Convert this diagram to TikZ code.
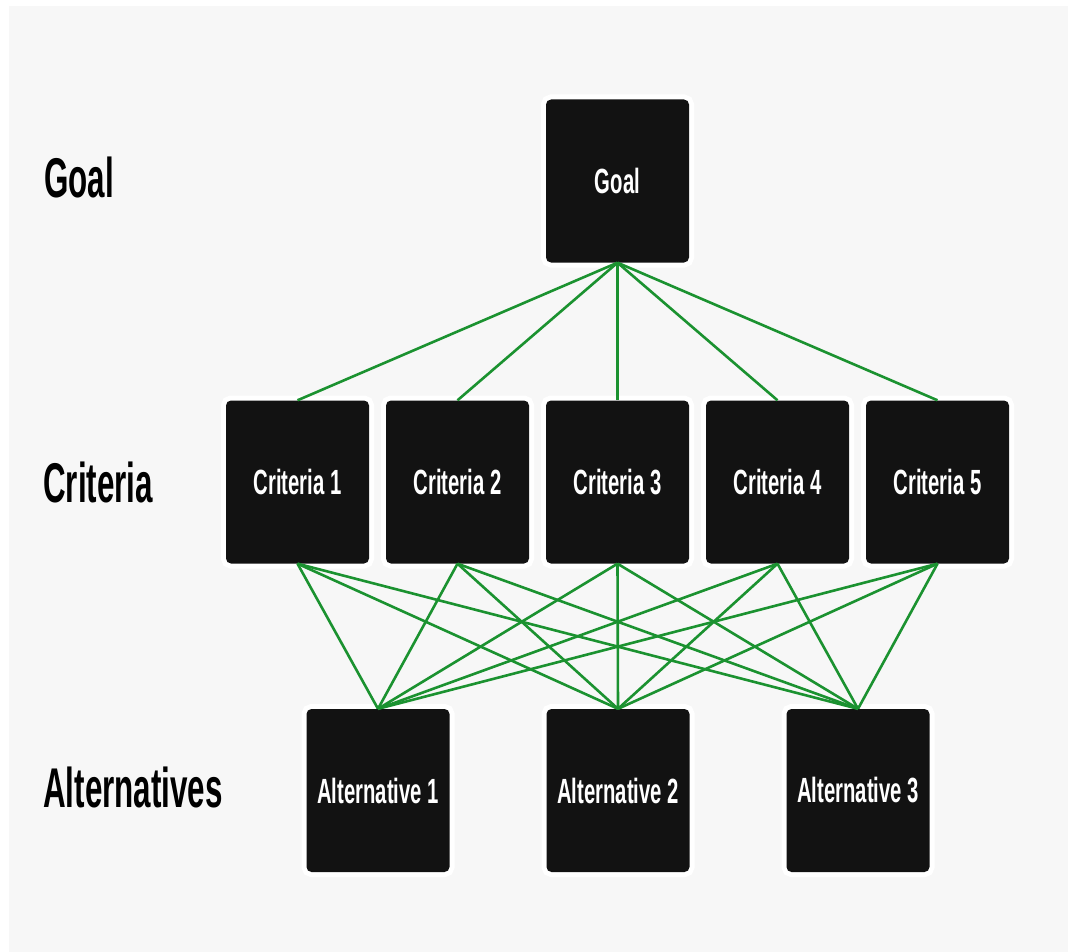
\documentclass[tikz,border=0pt]{standalone}
\usepackage{fontspec}
\newfontfamily\boxfont[FakeStretch=0.58]{Liberation Sans}
\newfontfamily\levelfont[FakeStretch=0.56]{Liberation Sans}
\definecolor{pagebg}{HTML}{F7F7F7}
\definecolor{boxfill}{HTML}{121212}
\definecolor{linkgreen}{HTML}{1B9230}
\begin{document}
\begin{tikzpicture}[x=1pt,y=-1pt,
  block/.style={rectangle, rounded corners=5pt, fill=boxfill,
    minimum width=143pt, minimum height=163pt, inner sep=0pt,
    text=white, font=\boxfont\bfseries\fontsize{35}{35}\selectfont,
    preaction={draw=white, line width=10pt, rounded corners=9pt}},
  level/.style={anchor=base west, inner sep=0pt, text=black,
    font=\levelfont\bfseries\fontsize{56}{56}\selectfont},
  link/.style={draw=linkgreen, line width=2.6pt}]
% page
\fill[white] (0,0) rectangle (1068,952);
\fill[pagebg] (9,6) rectangle (1068,952);
\useasboundingbox (0,0) rectangle (1068,952);

% level captions
\node[level] (lgoal) at (44,198) {Goal};
\node[level] (lcrit) at (43,502) {Criteria};
\node[level] (lalt)  at (43,807) {Alternatives};

% hierarchy boxes
\node[block] (goal) at (617.5,181) {Goal};
\node[block] (c1) at (297.5,482) {Criteria 1};
\node[block] (c2) at (457.5,482) {Criteria 2};
\node[block] (c3) at (617.5,482) {Criteria 3};
\node[block] (c4) at (777.5,482) {Criteria 4};
\node[block] (c5) at (937.5,482) {Criteria 5};
\node[block] (a1) at (378,790.5) {Alternative 1};
\node[block] (a2) at (618,790.5) {Alternative 2};
\node[block] (a3) at (858,790.5) {Alternative 3};

% goal to criteria
\foreach \c in {c1,c2,c3,c4,c5}
  \draw[link] (goal.south) -- (\c.north);
% criteria to alternatives
\foreach \c in {c1,c2,c3,c4,c5}
  \foreach \a in {a1,a2,a3}
    \draw[link] (\c.south) -- (\a.north);
\end{tikzpicture}
\end{document}
